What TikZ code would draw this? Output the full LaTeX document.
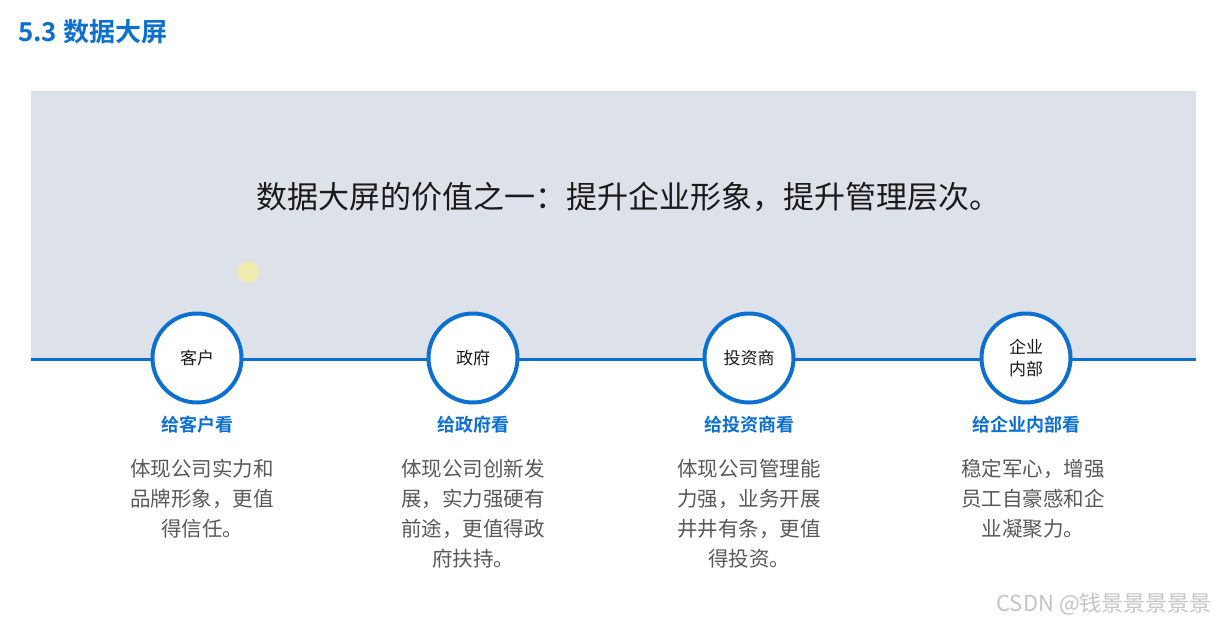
\documentclass[tikz,border=0pt]{standalone}
\usepackage{fontspec}
\setmainfont{Noto Sans CJK SC}[BoldFont={Noto Sans CJK SC Bold}]
\usepackage{xcolor}
\definecolor{dsblue}{HTML}{0B70D0}
\definecolor{dspanel}{HTML}{DDE1EA}
\definecolor{dsink}{HTML}{1A1A1A}
\definecolor{dsgray}{HTML}{595959}
\definecolor{dsmark}{HTML}{C4C4C4}
\definecolor{dsdot}{HTML}{EEEBAE}
\usetikzlibrary{positioning}
\tikzset{
  dsring/.style ={circle, draw=dsblue, fill=white, line width=4pt,
                  minimum size=89pt, inner sep=0pt, align=center,
                  font=\fontsize{17}{22}\selectfont, text=dsink},
  dsline/.style ={draw=dsblue, line width=3pt},
  dstag/.style  ={font=\fontsize{18}{22}\selectfont\bfseries, text=dsblue},
  dsbody/.style ={font=\fontsize{20.5}{30}\selectfont, text=dsgray,
                  align=center, anchor=north, inner sep=0pt},
}

\begin{document}
\begin{tikzpicture}[x=1pt,y=-1pt]
  \useasboundingbox[fill=white] (0,0) rectangle (1218,624);
  % title and panel
  \node[font=\fontsize{26}{28}\selectfont\bfseries, text=dsblue, anchor=west, inner sep=0pt]
    (title) at (18,32) {5.3 数据大屏};
  \fill[dspanel] (31,91) rectangle (1196,358);
  \node[font=\fontsize{31}{36}\selectfont, text=dsink] (head) at (628,197)
    {数据大屏的价值之一：提升企业形象，提升管理层次。};
  \fill[dsdot!50!dspanel] (248,272) circle (12);
  \fill[dsdot] (248,272) circle (10);
  % timeline
  \coordinate (lnL) at (31,359);
  \coordinate (lnR) at (1196,359);
  \draw[dsline] (lnL) -- (lnR);
  \foreach \i/\x/\bx/\who/\tag/\body in {
      1/197/202/客户/给客户看/{体现公司实力和\\品牌形象，更值\\得信任。},
      2/473/473/政府/给政府看/{体现公司创新发\\展，实力强硬有\\前途，更值得政\\府扶持。},
      3/749/749/投资商/给投资商看/{体现公司管理能\\力强，业务开展\\井井有条，更值\\得投资。},
      4/1026/1033/{企业\\内部}/给企业内部看/{稳定军心，增强\\员工自豪感和企\\业凝聚力。}}{
    \node[dsring] (c\i) at (\x,358) {\who};
    \node[dstag] (t\i) at (\x,425) {\tag};
    \node[dsbody] (b\i) at (\bx,459) {\body};
  }
  % watermark
  \node[font=\fontsize{22}{26}\selectfont, text=dsmark, anchor=east, inner sep=0pt]
    (mark) at (1212,604) {CSDN @钱景景景景景};
\end{tikzpicture}
\end{document}
